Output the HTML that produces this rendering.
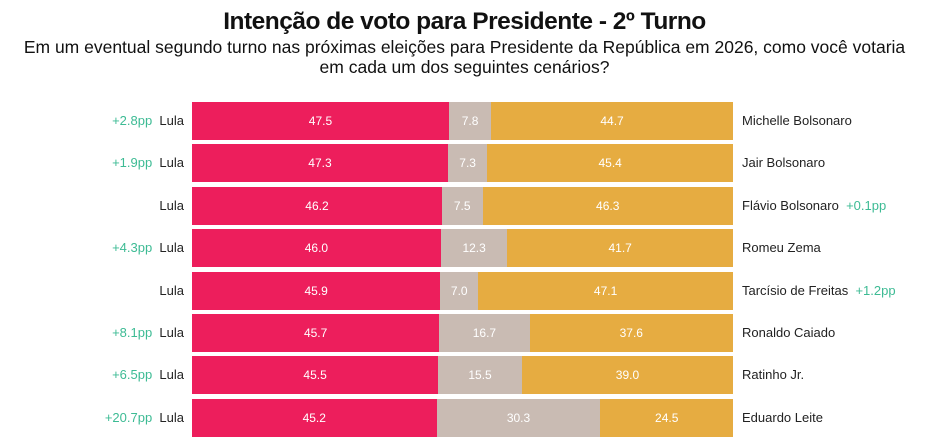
<!DOCTYPE html><html><head><meta charset="utf-8"><style>
body{margin:0;width:929px;height:441px;background:#fff;font-family:"Liberation Sans",sans-serif;position:relative;overflow:hidden}
.t{position:absolute;left:0;width:929px;text-align:center;color:#111}
.r{position:absolute;left:192px;width:541px;height:38px;display:flex}
.r div{height:38px;line-height:38px;text-align:center;color:#fff;font-size:12px;box-sizing:border-box}
.a{background:#ED1E5C}.b{background:#C9BBB3}.c{background:#E6AC41}
.l{position:absolute;font-size:13px;color:#222;line-height:38px}
.g{color:#3DBB94}
</style></head><body>
<div class="t" style="top:8px;font-size:24.5px;font-weight:bold;letter-spacing:-0.5px">Intenção de voto para Presidente - 2º Turno</div>
<div class="t" style="top:37px;font-size:17.5px;line-height:20px">Em um eventual segundo turno nas próximas eleições para Presidente da República em 2026, como você votaria<br>em cada um dos seguintes cenários?</div>
<div id="c"></div>
<script>
var d=[[47.5,7.8,44.7,"Michelle Bolsonaro","+2.8pp",""],[47.3,7.3,45.4,"Jair Bolsonaro","+1.9pp",""],[46.2,7.5,46.3,"Flávio Bolsonaro","","+0.1pp"],[46.0,12.3,41.7,"Romeu Zema","+4.3pp",""],[45.9,7.0,47.1,"Tarcísio de Freitas","","+1.2pp"],[45.7,16.7,37.6,"Ronaldo Caiado","+8.1pp",""],[45.5,15.5,39.0,"Ratinho Jr.","+6.5pp",""],[45.2,30.3,24.5,"Eduardo Leite","+20.7pp",""]];
var h="";d.forEach(function(r,i){var y=102+i*42.4;var s=r[0]+r[1]+r[2];
h+='<div class="r" style="top:'+y+'px"><div class="a" style="width:'+(r[0]/s*541)+'px">'+r[0].toFixed(1)+'</div><div class="b" style="width:'+(r[1]/s*541)+'px">'+r[1].toFixed(1)+'</div><div class="c" style="width:'+(r[2]/s*541)+'px">'+r[2].toFixed(1)+'</div></div>';
h+='<div class="l" style="top:'+y+'px;right:'+(929-184)+'px;text-align:right"><span class="g">'+r[4]+'</span>&nbsp; Lula</div>';
h+='<div class="l" style="top:'+y+'px;left:742px">'+r[3]+'&nbsp;&nbsp;<span class="g">'+r[5]+'</span></div>';});
document.getElementById("c").innerHTML=h;
</script>
</body></html>
